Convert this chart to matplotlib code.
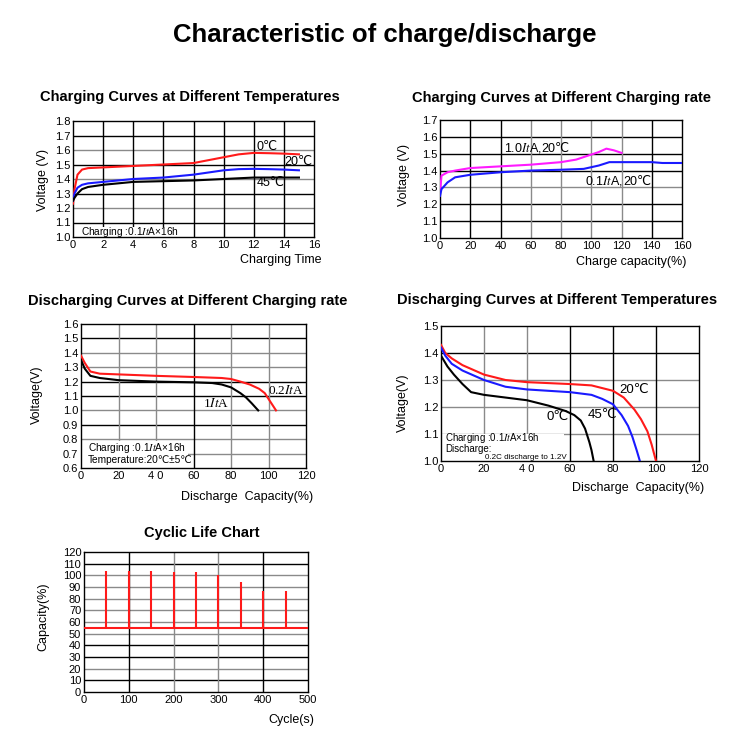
import matplotlib
matplotlib.use("Agg")
import matplotlib.pyplot as plt
from matplotlib.patches import Rectangle

plt.rcParams['font.family'] = ['Liberation Sans', 'DejaVu Sans']
plt.rcParams['mathtext.fontset'] = 'stix'

# --- chart 1: charging curves at different temperatures
t_time = [0, 0.1, 0.3, 0.6, 1, 2, 4, 6, 8, 9, 10, 11, 12, 13, 14, 15]
v_0c = [1.23, 1.33, 1.43, 1.465, 1.475, 1.48, 1.49, 1.50, 1.51, 1.53, 1.55, 1.57, 1.58, 1.578, 1.575, 1.57]
v_20c = [1.25, 1.30, 1.34, 1.36, 1.37, 1.38, 1.40, 1.41, 1.43, 1.445, 1.46, 1.468, 1.47, 1.468, 1.465, 1.46]
v_45c = [1.25, 1.27, 1.30, 1.33, 1.345, 1.36, 1.38, 1.385, 1.39, 1.395, 1.40, 1.405, 1.41, 1.41, 1.41, 1.41]

# --- chart 2: charging curves at different charging rate
cap_1c = [0, 1, 5, 10, 20, 40, 60, 80, 90, 100, 105, 110, 115, 120]
v_1c = [1.27, 1.37, 1.39, 1.40, 1.415, 1.425, 1.435, 1.45, 1.465, 1.495, 1.51, 1.53, 1.52, 1.505]
cap_01c = [0, 1, 5, 10, 20, 40, 60, 80, 95, 105, 112, 120, 140, 147, 160]
v_01c = [1.25, 1.29, 1.33, 1.36, 1.375, 1.39, 1.40, 1.405, 1.41, 1.43, 1.45, 1.45, 1.45, 1.445, 1.445]

# --- chart 3: discharging curves at different rate
cap_02 = [0, 2, 5, 10, 20, 40, 60, 75, 80, 85, 90, 95, 98, 100, 102, 104]
v_02 = [1.38, 1.33, 1.27, 1.255, 1.25, 1.24, 1.232, 1.225, 1.218, 1.20, 1.18, 1.15, 1.12, 1.08, 1.04, 1.0]
cap_1 = [0, 2, 5, 10, 20, 40, 60, 70, 75, 80, 85, 88, 91, 94.5]
v_1 = [1.35, 1.29, 1.24, 1.225, 1.21, 1.20, 1.195, 1.19, 1.18, 1.16, 1.12, 1.09, 1.05, 1.0]

# --- chart 4: discharging curves at different temperatures
cap_20c = [0, 2, 5, 10, 20, 30, 40, 60, 70, 80, 85, 90, 93, 96, 98, 100]
d_20c = [1.43, 1.40, 1.38, 1.355, 1.32, 1.30, 1.292, 1.285, 1.28, 1.26, 1.235, 1.19, 1.155, 1.11, 1.06, 1.0]
cap_45c = [0, 2, 5, 10, 20, 30, 40, 60, 70, 75, 80, 84, 87, 89, 91, 92.5]
d_45c = [1.42, 1.39, 1.36, 1.335, 1.30, 1.275, 1.265, 1.255, 1.245, 1.23, 1.21, 1.17, 1.13, 1.09, 1.04, 1.0]
cap_0c = [0, 3, 6, 10, 14, 20, 30, 40, 50, 58, 62, 65, 67, 69, 70, 71]
d_0c = [1.39, 1.35, 1.32, 1.285, 1.255, 1.245, 1.235, 1.225, 1.205, 1.185, 1.17, 1.15, 1.12, 1.07, 1.04, 1.0]

# --- chart 5: cyclic life
cycles = [50, 100, 150, 200, 250, 300, 350, 400, 450]
capacity = [104, 103.5, 104, 102.5, 102.5, 100, 94, 87, 87]
base_capacity = 55

W, H = 735, 744
fig = plt.figure(figsize=(7.35, 7.44), dpi=100)


def add_ax(l, t, r, b):
    return fig.add_axes([l / W, 1 - b / H, (r - l) / W, (b - t) / H])


def ftext(x, y, s, **kw):
    fig.text(x / W, 1 - y / H, s, **kw)


def setup(ax, xlim, ylim, xticks, yticks, xlabels, ylabels, gray_h=(), gray_v=()):
    ax.set_xlim(*xlim)
    ax.set_ylim(*ylim)
    ax.set_xticks(xticks)
    ax.set_xticklabels(xlabels, fontsize=8)
    ax.set_yticks(yticks)
    ax.set_yticklabels(ylabels, fontsize=8)
    ax.tick_params(length=0, pad=2)
    for y in yticks[1:-1]:
        c = '#8a8a8a' if y in gray_h else 'black'
        ax.axhline(y, color=c, lw=1, zorder=1)
    for x in xticks[1:-1]:
        c = '#8a8a8a' if x in gray_v else 'black'
        ax.axvline(x, color=c, lw=1, zorder=1)
    for s in ax.spines.values():
        s.set_linewidth(1)


def rate_label(ax, x, y, rate, temp, size=9):
    # "It" in italic serif through mathtext, the temperature as plain text after it
    t = ax.text(x, y, rate + r"$\mathit{It}$A,", fontsize=size, va='baseline', zorder=4)
    ax.annotate(temp, xy=(1, 0), xycoords=t, va='bottom', fontsize=size, zorder=4)


serif = ['Liberation Serif', 'DejaVu Serif']

ftext(385, 35, "Characteristic of charge/discharge", fontsize=18.5, fontweight='bold',
      ha='center', va='center')

# chart 1
ax1 = add_ax(73, 121, 314, 237)
y1 = [1.0, 1.1, 1.2, 1.3, 1.4, 1.5, 1.6, 1.7, 1.8]
setup(ax1, (0, 16), (1.0, 1.8), list(range(0, 17, 2)), y1,
      [str(v) for v in range(0, 17, 2)], ["%.1f" % v for v in y1],
      gray_h=(1.2, 1.4, 1.6))
ax1.plot(t_time, v_0c, color='#ff1a1a', lw=1.5, zorder=3)
ax1.plot(t_time, v_20c, color='#1a1aff', lw=1.5, zorder=3)
ax1.plot(t_time, v_45c, color='black', lw=1.5, zorder=3)
ax1.text(12.2, 1.62, "0℃", fontsize=9, va='center')
ax1.text(14.0, 1.52, "20℃", fontsize=9, va='center')
ax1.text(12.2, 1.37, "45℃", fontsize=9, va='center')
ax1.add_patch(Rectangle((0, 1.0), 7.4, 0.07, facecolor='white', edgecolor='none', zorder=2))
ax1.text(0.5, 1.035, r"Charging :0.1$\mathit{It}$A×16h", fontsize=7.3, va='center', zorder=4)
ax1.text(1.03, -0.2, "Charging Time", transform=ax1.transAxes, ha='right', va='center', fontsize=9)
ftext(43, 180, "Voltage (V)", rotation=90, ha='center', va='center', fontsize=9)
ftext(190, 97, "Charging Curves at Different Temperatures", fontsize=10.5,
      fontweight='bold', ha='center', va='center')

# chart 2
ax2 = add_ax(440, 120, 682, 238)
y2 = [1.0, 1.1, 1.2, 1.3, 1.4, 1.5, 1.6, 1.7]
setup(ax2, (0, 160), (1.0, 1.7), list(range(0, 161, 20)), y2,
      [str(v) for v in range(0, 161, 20)], ["%.1f" % v for v in y2],
      gray_h=(1.3,), gray_v=(60, 80, 100, 120))
ax2.plot(cap_1c, v_1c, color='#ff1aff', lw=1.5, zorder=3)
ax2.plot(cap_01c, v_01c, color='#1a1aff', lw=1.5, zorder=3)
rate_label(ax2, 42, 1.515, "1.0", "20℃")
rate_label(ax2, 96, 1.315, "0.1", "20℃")
ax2.text(1.02, -0.2, "Charge capacity(%)", transform=ax2.transAxes, ha='right', va='center', fontsize=9)
ftext(404, 175, "Voltage (V)", rotation=90, ha='center', va='center', fontsize=9)
ftext(561, 98, "Charging Curves at Different Charging rate", fontsize=10.5,
      fontweight='bold', ha='center', va='center')

# chart 3
ax3 = add_ax(81, 324, 306, 468)
y3 = [0.6, 0.7, 0.8, 0.9, 1.0, 1.1, 1.2, 1.3, 1.4, 1.5, 1.6]
x3 = list(range(0, 121, 20))
setup(ax3, (0, 120), (0.6, 1.6), x3, y3,
      ['0', '20', '4 0', '60', '80', '100', '120'], ["%.1f" % v for v in y3],
      gray_h=(0.7, 0.8, 1.0, 1.3, 1.4), gray_v=(20, 40, 80, 100))
ax3.plot(cap_02, v_02, color='#ff1a1a', lw=1.5, zorder=3)
ax3.plot(cap_1, v_1, color='black', lw=1.5, zorder=3)
ax3.text(100, 1.14, r"0.2$\mathit{It}$A", fontsize=9.5, va='center', family=serif)
ax3.text(65, 1.05, r"1$\mathit{It}$A", fontsize=9.5, va='center', family=serif)
ax3.add_patch(Rectangle((0, 0.6), 57, 0.185, facecolor='white', edgecolor='none', zorder=2))
ax3.text(3.5, 0.738, "Charging :0.1$\\mathit{It}$A×16h", fontsize=7.3, va='center', zorder=4)
ax3.text(3.5, 0.655, "Temperature:20℃±5℃", fontsize=7.3, va='center', zorder=4)
ax3.text(1.03, -0.2, "Discharge  Capacity(%)", transform=ax3.transAxes, ha='right', va='center', fontsize=9)
ftext(37, 395, "Voltage(V)", rotation=90, ha='center', va='center', fontsize=9)
ftext(188, 301, "Discharging Curves at Different Charging rate", fontsize=10.5,
      fontweight='bold', ha='center', va='center')

# chart 4
ax4 = add_ax(441, 326, 699, 461)
y4 = [1.0, 1.1, 1.2, 1.3, 1.4, 1.5]
setup(ax4, (0, 120), (1.0, 1.5), x3, y4,
      ['0', '20', '4 0', '60', '80', '100', '120'], ["%.1f" % v for v in y4],
      gray_h=(1.1, 1.2, 1.3), gray_v=(20, 40))
ax4.plot(cap_20c, d_20c, color='#ff1a1a', lw=1.5, zorder=3)
ax4.plot(cap_45c, d_45c, color='#1a1aff', lw=1.5, zorder=3)
ax4.plot(cap_0c, d_0c, color='black', lw=1.5, zorder=3)
ax4.text(83, 1.265, "20℃", fontsize=9.5, va='center')
ax4.text(68, 1.17, "45℃", fontsize=9.5, va='center')
ax4.text(49, 1.165, "0℃", fontsize=9.5, va='center')
ax4.add_patch(Rectangle((0, 1.0), 57, 0.1, facecolor='white', edgecolor='none', zorder=2))
ax4.text(2, 1.087, "Charging :0.1$\\mathit{It}$A×16h", fontsize=7.0, va='center', zorder=4)
ax4.text(2, 1.044, "Discharge:", fontsize=7.0, va='center', zorder=4)
ax4.text(20.5, 1.012, "0.2C discharge to 1.2V", fontsize=5.8, va='center', zorder=4)
ax4.text(1.02, -0.2, "Discharge  Capacity(%)", transform=ax4.transAxes, ha='right', va='center', fontsize=9)
ftext(403, 403, "Voltage(V)", rotation=90, ha='center', va='center', fontsize=9)
ftext(557, 300, "Discharging Curves at Different Temperatures", fontsize=10.5,
      fontweight='bold', ha='center', va='center')

# chart 5
ax5 = add_ax(84, 552, 308, 692)
y5 = list(range(0, 121, 10))
x5 = list(range(0, 501, 100))
setup(ax5, (0, 500), (0, 120), x5, y5, [str(v) for v in x5], [str(v) for v in y5],
      gray_h=(20, 50, 60, 70, 80, 90, 100), gray_v=(200, 300))
ax5.vlines(cycles, base_capacity, capacity, color='#ff1a1a', lw=1.5, zorder=3)
ax5.axhline(base_capacity, color='#ff1a1a', lw=1.5, zorder=3)
ax5.text(1.03, -0.2, "Cycle(s)", transform=ax5.transAxes, ha='right', va='center', fontsize=9)
ftext(43, 617, "Capacity(%)", rotation=90, ha='center', va='center', fontsize=9)
ftext(202, 533, "Cyclic Life Chart", fontsize=10.5, fontweight='bold', ha='center', va='center')

fig.savefig("out.png", dpi=100)
